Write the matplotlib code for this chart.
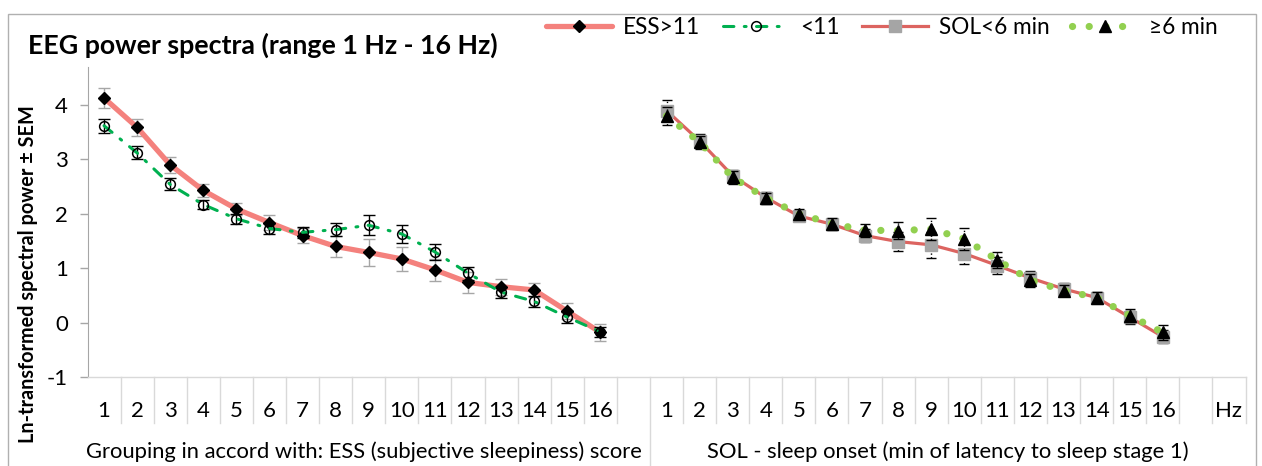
#!/usr/bin/env python3
"""EEG power spectra by ESS and SOL grouping (two category groups on one axis)."""

import matplotlib
matplotlib.use('Agg')
import matplotlib.pyplot as plt
from matplotlib.patches import Rectangle
import matplotlib.transforms as mtransforms

plt.rcParams['font.family'] = ['Lato', 'DejaVu Sans']
plt.rcParams['axes.unicode_minus'] = False

freqs = list(range(1, 17))
group_labels = ['Grouping in accord with: ESS (subjective sleepiness) score',
                'SOL - sleep onset (min of latency to sleep stage 1)']
tick_labels = [str(f) for f in freqs] + [''] + [str(f) for f in freqs] + ['', 'Hz']

# ESS grouping
ess_hi = [4.13, 3.59, 2.90, 2.43, 2.09, 1.84, 1.60, 1.40, 1.29, 1.17, 0.97, 0.74, 0.66, 0.60, 0.21, -0.18]
ess_hi_sem = [0.19, 0.16, 0.15, 0.12, 0.11, 0.13, 0.14, 0.19, 0.24, 0.22, 0.20, 0.19, 0.15, 0.13, 0.15, 0.15]
ess_lo = [3.62, 3.12, 2.54, 2.17, 1.91, 1.73, 1.66, 1.71, 1.79, 1.63, 1.30, 0.91, 0.56, 0.39, 0.10, -0.17]
ess_lo_sem = [0.13, 0.12, 0.11, 0.09, 0.09, 0.10, 0.10, 0.12, 0.18, 0.16, 0.14, 0.12, 0.10, 0.10, 0.10, 0.09]

# SOL grouping
sol_lo = [3.90, 3.34, 2.70, 2.30, 1.96, 1.81, 1.60, 1.49, 1.43, 1.27, 1.05, 0.82, 0.62, 0.46, 0.10, -0.26]
sol_lo_sem = [0.19, 0.12, 0.10, 0.10, 0.08, 0.10, 0.12, 0.18, 0.24, 0.19, 0.15, 0.12, 0.10, 0.10, 0.12, 0.12]
sol_hi = [3.80, 3.32, 2.67, 2.29, 2.00, 1.82, 1.70, 1.69, 1.72, 1.54, 1.15, 0.78, 0.59, 0.46, 0.13, -0.18]
sol_hi_sem = [0.17, 0.12, 0.12, 0.10, 0.08, 0.10, 0.12, 0.16, 0.20, 0.20, 0.14, 0.12, 0.10, 0.10, 0.12, 0.14]

n_cat = len(tick_labels)
x_ess = list(range(0, 16))
x_sol = list(range(17, 33))

fig = plt.figure(figsize=(12.62, 4.66), dpi=100)
ax = fig.add_axes([87.5 / 1262, 1 - 377 / 466, (1245.5 - 87.5) / 1262, 310 / 466])

# chart border
fig.patches.append(Rectangle((8 / 1262, -0.05), 1248 / 1262, 1.05 - 14 / 466,
                             transform=fig.transFigure, fill=False,
                             edgecolor='#b0b0b0', linewidth=1.0))

fig.text(28 / 1262, 1 - 45 / 466, 'EEG power spectra (range 1 Hz - 16 Hz)',
         fontsize=19.3, fontweight='bold', va='center', ha='left')

# ESS >11
ax.errorbar(x_ess, ess_hi, yerr=ess_hi_sem, fmt='none', ecolor='#a6a6a6',
            elinewidth=1.0, capsize=4.5, capthick=1.0, zorder=2)
ax.plot(x_ess, ess_hi, color='#f4817d', linewidth=3.8, solid_capstyle='round',
        marker='D', markersize=6, markerfacecolor='black', markeredgecolor='black',
        label='ESS>11', zorder=3)

# ESS <11
ax.errorbar(x_ess, ess_lo, yerr=ess_lo_sem, fmt='none', ecolor='black',
            elinewidth=1.0, capsize=4.5, capthick=1.0, zorder=4)
ax.plot(x_ess, ess_lo, color='#00b050', linewidth=2.2,
        linestyle=(0, (3.4, 3.4, 0.6, 3.4)), dash_capstyle='round',
        marker='o', markersize=7, markerfacecolor='none', markeredgecolor='black',
        markeredgewidth=1.1, label='<11', zorder=5)

# SOL <6 min
eb = ax.errorbar(x_sol, sol_lo, yerr=sol_lo_sem, fmt='none', ecolor='black',
                 elinewidth=1.0, capsize=3.5, capthick=1.0, zorder=6)
eb[2][0].set_linestyle(':')
ax.plot(x_sol, sol_lo, color='#dc6460', linewidth=2.3,
        marker='s', markersize=8, markerfacecolor='#a5a5a5', markeredgecolor='#a5a5a5',
        label='SOL<6 min', zorder=7)

# SOL >=6 min
eb = ax.errorbar(x_sol, sol_hi, yerr=sol_hi_sem, fmt='none', ecolor='black',
                 elinewidth=1.0, capsize=3.5, capthick=1.0, zorder=8)
eb[2][0].set_linestyle(':')
ax.plot(x_sol, sol_hi, color='#92d050', linewidth=5.2,
        linestyle=(0, (0.01, 2.3)), dash_capstyle='round',
        marker='^', markersize=8, markerfacecolor='black', markeredgecolor='black',
        label='≥6 min', zorder=9)

ax.set_xlim(-0.5, n_cat - 0.5)
ax.set_ylim(-1, 4.7)
ax.set_yticks([-1, 0, 1, 2, 3, 4])
ax.set_xticks(range(n_cat))
ax.set_xticklabels(tick_labels)
ax.tick_params(axis='x', length=0, pad=17, labelsize=16)
ax.tick_params(axis='y', length=6, width=1, color='#a6a6a6', pad=8, labelsize=16)

for side in ('top', 'right'):
    ax.spines[side].set_visible(False)
ax.spines['left'].set_color('#a6a6a6')
ax.spines['bottom'].set_color('#d9d9d9')
ax.spines['bottom'].set_linewidth(1.0)

# category dividers below the axis
trans = mtransforms.blended_transform_factory(ax.transData, ax.transAxes)
for k in range(n_cat):
    xb = k + 0.5
    bottom = -0.29 if xb == 16.5 else -0.147
    ax.plot([xb, xb], [0, bottom], color='#d9d9d9', linewidth=1.0,
            transform=trans, clip_on=False)

ax.text(7.85, -0.242, group_labels[0], transform=trans, ha='center', va='center', fontsize=15.8)
ax.text(25.5, -0.242, group_labels[1], transform=trans, ha='center', va='center', fontsize=15.8)

fig.text(28 / 1262, 1 - 274 / 466, 'Ln-transformed spectral power ± SEM',
         rotation=90, fontsize=14.3, fontweight='bold', ha='center', va='center')

fig.legend(loc='center', bbox_to_anchor=(882 / 1262, 1 - 27 / 466), ncol=4,
           frameon=False, fontsize=16.3, handlelength=2.9, columnspacing=1.0,
           handletextpad=0.5)

fig.savefig('out.png', dpi=100)
